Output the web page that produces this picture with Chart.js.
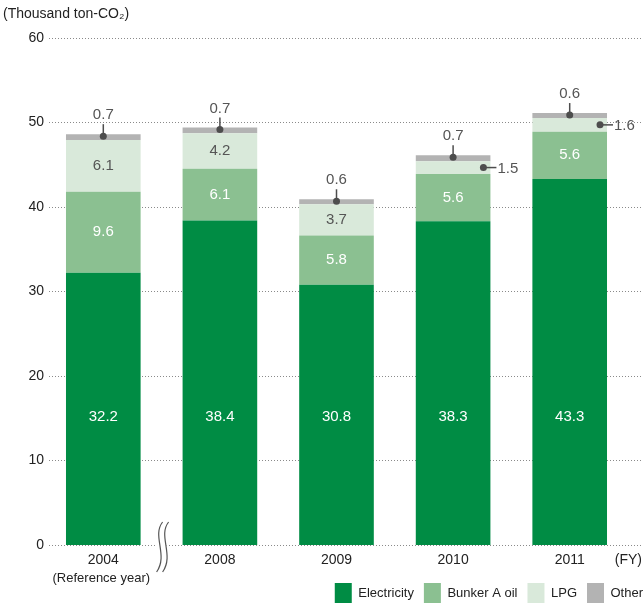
<!DOCTYPE html>
<html>
<head>
<meta charset="utf-8">
<script src="https://cdn.jsdelivr.net/npm/chart.js@4/dist/chart.umd.min.js"></script>
<style>
  html, body { margin: 0; padding: 0; background: #fff; }
  #wrap { width: 643px; height: 607px; position: relative; }
</style>
</head>
<body>
<div id="wrap"><canvas id="myChart"></canvas></div>
<script>
const years = ['2004', '2008', '2009', '2010', '2011'];
const yearNotes = ['(Reference year)', '', '', '', ''];
const electricity = [32.2, 38.4, 30.8, 38.3, 43.3];
const bunkerA = [9.6, 6.1, 5.8, 5.6, 5.6];
const lpg = [6.1, 4.2, 3.7, 1.5, 1.6];
const other = [0.7, 0.7, 0.6, 0.7, 0.6];
const yMax = 60;
const yStep = 10;

const FONT = "'Liberation Sans', Arial, sans-serif";
const INK = '#4d4d4d';

// dotted gridlines that run out to the right edge
const dottedGrid = {
  id: 'dottedGrid',
  beforeDatasetsDraw(chart) {
    const { ctx, scales: { y } } = chart;
    ctx.save();
    ctx.strokeStyle = '#8a8a8a';
    ctx.lineWidth = 1;
    ctx.setLineDash([1, 2]);
    y.ticks.forEach(t => {
      const py = Math.round(y.getPixelForValue(t.value)) + 0.5;
      ctx.beginPath();
      ctx.moveTo(49, py);
      ctx.lineTo(chart.width, py);
      ctx.stroke();
    });
    ctx.restore();
  }
};

// value labels and the little callouts
const segmentLabels = {
  id: 'segmentLabels',
  afterDatasetsDraw(chart) {
    const { ctx, scales: { y } } = chart;
    ctx.save();
    ctx.font = '15px ' + FONT;
    ctx.textBaseline = 'middle';
    chart.data.datasets.forEach((ds, di) => {
      const meta = chart.getDatasetMeta(di);
      meta.data.forEach((bar, i) => {
        const p = bar.getProps(['x', 'y', 'base', 'width'], true);
        const txt = ds.data[i].toFixed(1);
        const mid = (p.y + p.base) / 2;
        const right = p.x + p.width / 2;
        ctx.textAlign = 'center';
        if (di === 0) {
          ctx.fillStyle = '#fff';
          ctx.fillText(txt, p.x, y.getPixelForValue(15.2));
        } else if (di === 1) {
          ctx.fillStyle = '#fff';
          ctx.fillText(txt, p.x, mid);
        } else if (di === 2 && ds.data[i] >= 3) {
          ctx.fillStyle = '#555';
          ctx.fillText(txt, p.x, mid);
        } else if (di === 2) {
          ctx.strokeStyle = INK;
          ctx.fillStyle = INK;
          ctx.lineWidth = 1.5;
          ctx.beginPath();
          ctx.moveTo(right - 7, mid);
          ctx.lineTo(right + 6, mid);
          ctx.stroke();
          ctx.beginPath();
          ctx.arc(right - 7, mid, 3.5, 0, Math.PI * 2);
          ctx.fill();
          ctx.textAlign = 'left';
          ctx.fillStyle = '#555';
          ctx.fillText(txt, right + 7, mid + 1);
        } else {
          const dotY = p.y + 2;
          ctx.strokeStyle = INK;
          ctx.fillStyle = INK;
          ctx.lineWidth = 1.5;
          ctx.beginPath();
          ctx.moveTo(p.x, dotY);
          ctx.lineTo(p.x, p.y - 10);
          ctx.stroke();
          ctx.beginPath();
          ctx.arc(p.x, dotY, 3.5, 0, Math.PI * 2);
          ctx.fill();
          ctx.fillStyle = '#555';
          ctx.fillText(txt, p.x, p.y - 19);
        }
      });
    });
    ctx.restore();
  }
};

// axis break between 2004 and 2008, year notes and the (FY) unit
const axisExtras = {
  id: 'axisExtras',
  afterDraw(chart) {
    const { ctx, scales: { x, y } } = chart;
    const zeroY = y.getPixelForValue(0);
    const bx = (x.getPixelForValue(0) + x.getPixelForValue(1)) / 2 - 6;
    const top = zeroY - 23;
    const wave = (ox) => {
      ctx.moveTo(ox + 7, top);
      ctx.bezierCurveTo(ox - 4, top + 14, ox + 13, top + 33, ox + 1, top + 50);
    };
    ctx.save();
    ctx.fillStyle = '#fff';
    ctx.fillRect(bx + 1, zeroY - 3, 10, 6);
    ctx.strokeStyle = '#555';
    ctx.lineWidth = 1.2;
    ctx.beginPath();
    wave(bx);
    ctx.stroke();
    ctx.beginPath();
    wave(bx + 6);
    ctx.stroke();

    ctx.font = '13px ' + FONT;
    ctx.fillStyle = '#222';
    ctx.textAlign = 'center';
    ctx.textBaseline = 'middle';
    yearNotes.forEach((n, i) => {
      if (n) ctx.fillText(n, x.getPixelForValue(i) - 2, zeroY + 33);
    });
    ctx.font = '14px ' + FONT;
    ctx.textAlign = 'right';
    ctx.fillText('(FY)', chart.width - 1, zeroY + 15);
    ctx.restore();
  }
};

const ctx = document.getElementById('myChart');

new Chart(ctx, {
  type: 'bar',
  data: {
    labels: years,
    datasets: [
      { label: 'Electricity', data: electricity, backgroundColor: '#008c44' },
      { label: 'Bunker A oil', data: bunkerA, backgroundColor: '#8bc091' },
      { label: 'LPG', data: lpg, backgroundColor: '#d9e9da' },
      { label: 'Other', data: other, backgroundColor: '#b3b3b3' }
    ]
  },
  options: {
    responsive: true,
    maintainAspectRatio: false,
    animation: false,
    layout: { padding: { left: 3, right: -10, top: 0, bottom: -6 } },
    datasets: {
      bar: { categoryPercentage: 1, barPercentage: 0.64, borderWidth: 0 }
    },
    scales: {
      x: {
        stacked: true,
        grid: { display: false, drawTicks: false },
        border: { display: false },
        ticks: { color: '#222', font: { family: FONT, size: 14 }, padding: 7, maxRotation: 0, autoSkip: false },
        afterFit(scale) {
          scale.height = 28;
          scale.paddingLeft = 0;
          scale.paddingRight = 15;
        }
      },
      y: {
        stacked: true,
        min: 0,
        max: yMax,
        grid: { display: false, drawTicks: false },
        border: { display: false },
        ticks: { stepSize: yStep, color: '#222', font: { family: FONT, size: 14 }, padding: 1 },
        afterFit(scale) { scale.width = 42; }
      }
    },
    plugins: {
      title: {
        display: true,
        text: '(Thousand ton-CO₂)',
        align: 'start',
        color: '#222',
        font: { family: FONT, size: 14, weight: 'normal' },
        padding: { top: 6, bottom: 15 }
      },
      legend: {
        position: 'bottom',
        align: 'end',
        labels: {
          color: '#222',
          font: { family: FONT, size: 13 },
          boxWidth: 17,
          boxHeight: 20,
          padding: 10
        }
      },
      tooltip: { enabled: false }
    }
  },
  plugins: [dottedGrid, segmentLabels, axisExtras]
});
</script>
</body>
</html>
